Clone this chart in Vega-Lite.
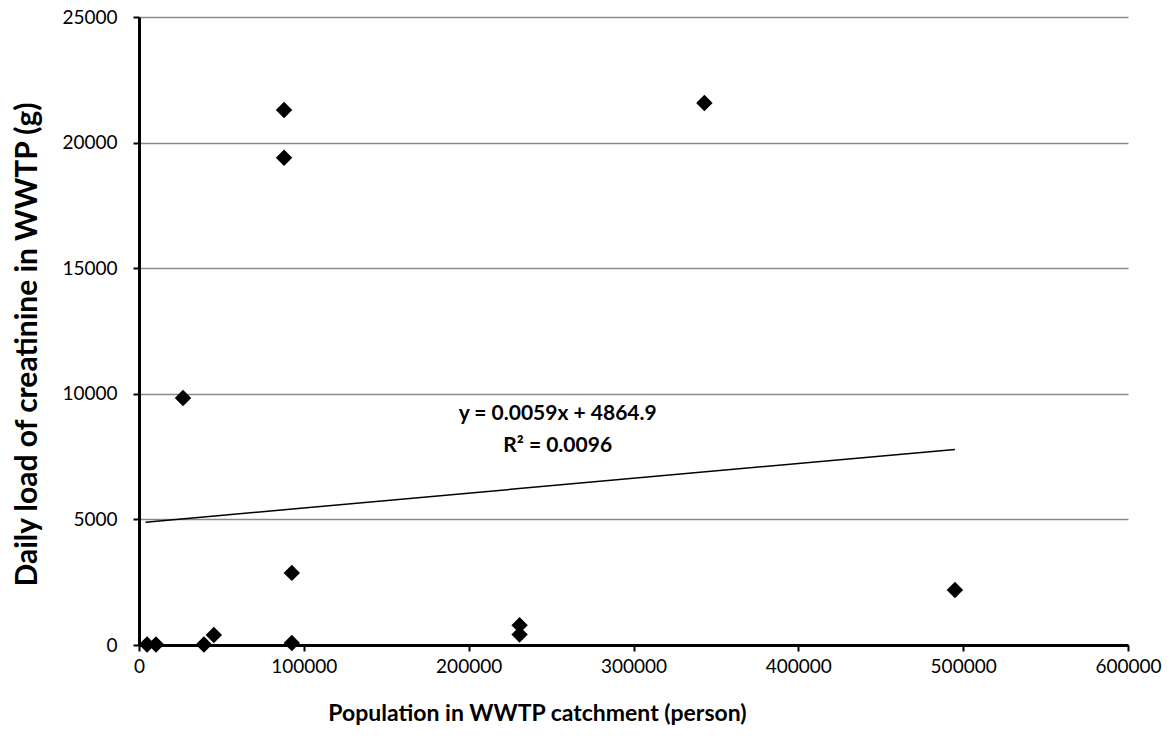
{
  "$schema": "https://vega.github.io/schema/vega-lite/v6.json",
  "width": 989,
  "height": 628,
  "autosize": {"type": "none"},
  "padding": {"left": 139, "top": 17, "right": 48, "bottom": 111},
  "background": "white",
  "config": {
    "view": {"stroke": null},
    "font": "Lato"
  },
  "datasets": {
    "points": [
      {"population": 4900, "creatinine": 20},
      {"population": 10300, "creatinine": 20},
      {"population": 39400, "creatinine": 20},
      {"population": 45400, "creatinine": 400},
      {"population": 26700, "creatinine": 9830},
      {"population": 88000, "creatinine": 21300},
      {"population": 88000, "creatinine": 19400},
      {"population": 92700, "creatinine": 2870},
      {"population": 92700, "creatinine": 80},
      {"population": 230900, "creatinine": 790},
      {"population": 230900, "creatinine": 420},
      {"population": 343000, "creatinine": 21580},
      {"population": 495000, "creatinine": 2190}
    ],
    "trend": [
      {"population": 4000, "creatinine": 4888.5},
      {"population": 495000, "creatinine": 7785.4}
    ],
    "labels": [
      {"population": 254000, "creatinine": 9180, "text": "y = 0.0059x + 4864.9"},
      {"population": 254000, "creatinine": 7930, "text": "R² = 0.0096"}
    ]
  },
  "encoding": {
    "x": {
      "field": "population",
      "type": "quantitative",
      "scale": {"domain": [0, 600000], "nice": false, "zero": true},
      "axis": {
        "title": "Population in WWTP catchment (person)",
        "values": [0, 100000, 200000, 300000, 400000, 500000, 600000],
        "format": "d",
        "grid": false,
        "domainColor": "black",
        "domainWidth": 3,
        "tickColor": "black",
        "tickWidth": 2,
        "tickSize": 6,
        "labelFont": "Lato",
        "labelFontSize": 19,
        "labelColor": "black",
        "labelPadding": 6,
        "labelFlush": false,
        "titleFont": "Lato",
        "titleFontSize": 23,
        "titleFontWeight": "bold",
        "titleColor": "black",
        "titleAnchor": "start",
        "titleAlign": "center",
        "titleX": 398,
        "titleY": 68,
        "titleBaseline": "middle"
      }
    },
    "y": {
      "field": "creatinine",
      "type": "quantitative",
      "scale": {"domain": [0, 25000], "nice": false},
      "axis": {
        "title": "Daily load of creatinine in WWTP (g)",
        "values": [0, 5000, 10000, 15000, 20000, 25000],
        "format": "d",
        "grid": true,
        "gridColor": "#8a8a8a",
        "gridWidth": 1.5,
        "domainColor": "black",
        "domainWidth": 3,
        "tickColor": "black",
        "tickWidth": 2,
        "tickSize": 6,
        "labelFont": "Lato",
        "labelFontSize": 19,
        "labelColor": "black",
        "labelPadding": 16,
        "labelFlush": false,
        "titleFont": "Lato",
        "titleFontSize": 30,
        "titleFontWeight": "bold",
        "titleColor": "black",
        "titleAngle": -90,
        "titleAlign": "center",
        "titleBaseline": "middle",
        "titleX": -112,
        "titleY": 327
      }
    }
  },
  "layer": [
    {
      "data": {"name": "trend"},
      "mark": {"type": "line", "color": "black", "strokeWidth": 1.5}
    },
    {
      "data": {"name": "points"},
      "mark": {"type": "point", "shape": "diamond", "filled": true, "color": "black", "opacity": 1, "size": 270}
    },
    {
      "data": {"name": "labels"},
      "mark": {"type": "text", "font": "Lato", "fontSize": 21, "fontWeight": "bold", "color": "black", "align": "center", "baseline": "middle"},
      "encoding": {"text": {"field": "text"}}
    }
  ]
}
